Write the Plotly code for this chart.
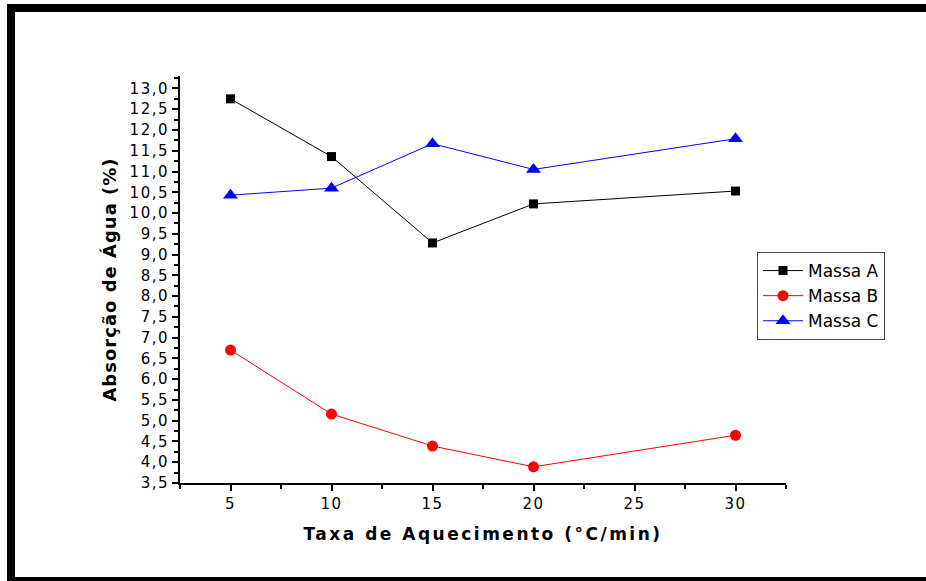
import plotly.graph_objects as go

x_rate = [5, 10, 15, 20, 30]
massa_a = [12.75, 11.36, 9.28, 10.22, 10.53]
massa_b = [6.70, 5.16, 4.39, 3.89, 4.65]
massa_c = [10.43, 10.60, 11.67, 11.05, 11.79]
series_names = ["Massa A", "Massa B", "Massa C"]

W, H = 926, 581
L, R, T, B = 180, 786, 76, 483


def px(xp):
    return (xp - L) / (R - L)


def py(yp):
    return (B - yp) / (B - T)


fig = go.Figure()
fig.add_trace(go.Scatter(x=x_rate, y=massa_a, name=series_names[0], mode="lines+markers",
                         line=dict(color="#000000", width=1),
                         marker=dict(symbol="square", size=9, color="#000000")))
fig.add_trace(go.Scatter(x=x_rate, y=massa_b, name=series_names[1], mode="lines+markers",
                         line=dict(color="#FF0000", width=1),
                         marker=dict(symbol="circle", size=11, color="#FF0000")))
fig.add_trace(go.Scatter(x=x_rate, y=massa_c, name=series_names[2], mode="lines+markers",
                         line=dict(color="#0000FF", width=1),
                         marker=dict(symbol="triangle-up", size=13, color="#0000FF")))

axis_font = dict(family="DejaVu Sans", size=15, color="#000000")

fig.update_layout(
    width=W, height=H,
    margin=dict(l=L, r=W - R, t=T, b=H - B),
    paper_bgcolor="white", plot_bgcolor="white",
    separators=", ",
    showlegend=True,
    legend=dict(x=px(757), y=py(252), xanchor="left", yanchor="top",
                bordercolor="#444444", borderwidth=1, bgcolor="white",
                font=dict(family="DejaVu Sans", size=17, color="#000000"),
                tracegroupgap=0, itemwidth=40),
    xaxis=dict(range=[2.5, 32.5], tick0=0, dtick=5, showgrid=False, zeroline=False,
               showline=True, linecolor="#000000", linewidth=2,
               ticks="outside", ticklen=6, tickwidth=1.5, tickcolor="#000000",
               minor=dict(ticks="outside", ticklen=4, dtick=2.5, tick0=0, tickcolor="#000000", tickwidth=1.5),
               tickfont=axis_font,
               title=dict(text="Taxa de Aquecimento (°C/min)", standoff=16,
                          font=dict(family="DejaVu Sans", size=17, color="#000000", weight="bold"))),
    yaxis=dict(range=[3.5, 13.3], tick0=3.5, dtick=0.5, tickformat=".1f", showgrid=False, zeroline=False,
               showline=True, linecolor="#000000", linewidth=2,
               ticks="outside", ticklen=6, tickwidth=1.5, tickcolor="#000000",
               minor=dict(ticks="outside", ticklen=4, dtick=0.25, tick0=3.5, tickcolor="#000000", tickwidth=1.5),
               tickfont=axis_font,
               title=dict(text="Absorção de Água (%)", standoff=14,
                          font=dict(family="DejaVu Sans", size=18, color="#000000", weight="bold"))),
    shapes=[
        dict(type="line", xref="paper", yref="paper", x0=px(7), x1=px(926), y0=py(8), y1=py(8),
             line=dict(color="#000000", width=8)),
        dict(type="line", xref="paper", yref="paper", x0=px(11), x1=px(11), y0=py(4), y1=py(581),
             line=dict(color="#000000", width=8)),
        dict(type="line", xref="paper", yref="paper", x0=px(7), x1=px(926), y0=py(581), y1=py(581),
             line=dict(color="#000000", width=8)),
    ],
)

spacing_js = """
var st = document.createElement('style');
st.textContent = '.xtitle{letter-spacing:2.5px}' +
  '.ytitle{letter-spacing:1px}' +
  '.xtick text,.ytick text{letter-spacing:1.5px}';
document.head.appendChild(st);
"""

fig.write_html("out.html", post_script=spacing_js)
